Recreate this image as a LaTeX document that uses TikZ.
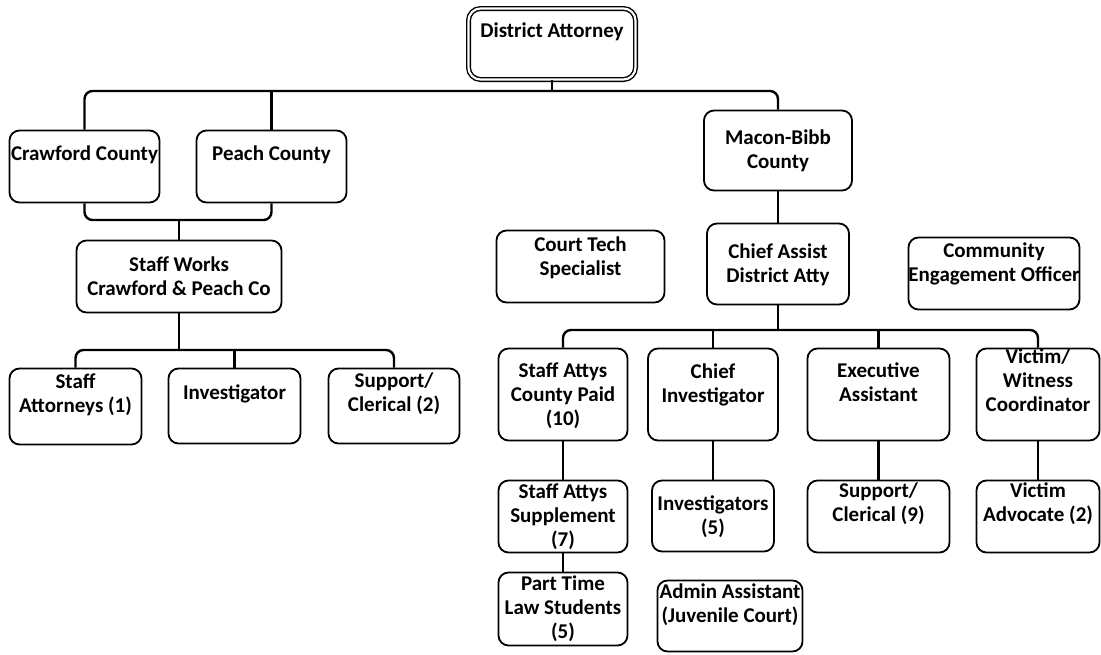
\documentclass[tikz,border=0pt]{standalone}
\usepackage{fontspec}
\setmainfont{Carlito}
\usepackage{tikz}

\begin{document}
\begin{tikzpicture}[x=1pt,y=-1pt]
\tikzstyle{post}=[draw,line width=1.8pt,rounded corners=10pt,fill=white];
\tikzstyle{head}=[draw,line width=1.4pt,double,double distance=2.2pt,rounded corners=12pt,fill=white];
\tikzstyle{txt}=[align=center,inner sep=0pt,font=\fontsize{21}{24}\selectfont\bfseries];
\tikzstyle{link}=[line width=2.4pt];
\tikzstyle{tree}=[line width=2.4pt,rounded corners=8pt];

\useasboundingbox (0,0) rectangle (1101,654);

\node [head,minimum width=167pt,minimum height=71pt] (da) at (552,44) {};
\node [txt] (da-t) at (552,32) {District Attorney};
\coordinate (top) at (552,91);

%% counties

\node [post,minimum width=150pt,minimum height=72pt] (crawford) at (84.5,166.5) {};
\node [txt] (crawford-t) at (84.5,155) {Crawford County};
\node [post,minimum width=150pt,minimum height=72pt] (peach) at (271.5,166.5) {};
\node [txt] (peach-t) at (271.5,155) {Peach County};
\node [post,minimum width=148pt,minimum height=80pt] (macon) at (778,150.5) {};
\node [txt] (macon-t) at (778,150.5) {Macon-Bibb\\County};

\draw [link] (da.south) -- (top);
\draw [tree] (crawford.north) |- (top) -| (macon.north);
\draw [link] (peach.north) -- (peach.north |- top);

%% crawford & peach

\coordinate (pair) at (179,220);
\draw [tree] (crawford.south) |- (pair) -| (peach.south);
\node [post,minimum width=205pt,minimum height=72pt] (works) at (179,276.5) {};
\node [txt] (works-t) at (179,276.5) {Staff Works\\Crawford \& Peach Co};
\draw [link] (pair) -- (works.north);

\coordinate (cpbar) at (179,350);
\node [post,minimum width=132pt,minimum height=76pt] (attys) at (75.5,406.5) {};
\node [txt] (attys-t) at (75.5,394.5) {Staff\\Attorneys (1)};
\node [post,minimum width=132pt,minimum height=75pt] (inv) at (234.5,406) {};
\node [txt] (inv-t) at (234.5,394) {Investigator};
\node [post,minimum width=131pt,minimum height=75pt] (clerk) at (394,406) {};
\node [txt] (clerk-t) at (394,394) {Support/\\Clerical (2)};
\draw [link] (works.south) -- (cpbar);
\draw [tree] (attys.north) |- (cpbar) -| (clerk.north);
\draw [link] (inv.north) -- (inv.north |- cpbar);

%% macon-bibb

\node [post,minimum width=142pt,minimum height=81pt] (chief) at (778,264) {};
\node [txt] (chief-t) at (778,264.5) {Chief Assist\\District Atty};
\draw [link] (macon) -- (chief);
\node [post,minimum width=168pt,minimum height=72pt] (tech) at (580.5,266.5) {};
\node [txt] (tech-t) at (580.5,257.5) {Court Tech\\Specialist};
\node [post,minimum width=171pt,minimum height=72pt] (outreach) at (994,273.5) {};
\node [txt] (outreach-t) at (994,264) {Community\\Engagement Officer};

\coordinate (mbbar) at (778,330);
\node [post,minimum width=129pt,minimum height=92pt] (paid) at (563,394.5) {};
\node [txt] (paid-t) at (563,396) {Staff Attys\\County Paid\\(10)};
\node [post,minimum width=130pt,minimum height=92pt] (cinv) at (713,394.5) {};
\node [txt] (cinv-t) at (713,384.5) {Chief\\Investigator};
\node [post,minimum width=142pt,minimum height=92pt] (exec) at (878.5,394.5) {};
\node [txt] (exec-t) at (878.5,382.5) {Executive\\Assistant};
\node [post,minimum width=123pt,minimum height=92pt] (vw) at (1038,394.5) {};
\node [txt] (vw-t) at (1038,380) {Victim/\\Witness\\Coordinator};
\draw [link] (chief.south) -- (mbbar);
\draw [tree] (paid.north) |- (mbbar) -| (vw.north);
\draw [link] (cinv.north) -- (cinv.north |- mbbar);
\draw [link] (exec.north) -- (exec.north |- mbbar);

%%

\node [post,minimum width=129pt,minimum height=72pt] (supp) at (563,516.5) {};
\node [txt] (supp-t) at (563,516.5) {Staff Attys\\Supplement\\(7)};
\node [post,minimum width=129pt,minimum height=73pt] (law) at (563,609) {};
\node [txt] (law-t) at (563,609) {Part Time\\Law Students\\(5)};
\draw [link] (paid) -- (supp);
\draw [link] (supp) -- (law);

\node [post,minimum width=122pt,minimum height=71pt] (invs) at (713,516) {};
\node [txt] (invs-t) at (713,516.5) {Investigators\\(5)};
\draw [link] (cinv) -- (invs);
\node [post,minimum width=145pt,minimum height=71pt] (admin) at (730,616) {};
\node [txt] (admin-t) at (730,605) {Admin Assistant\\(Juvenile Court)};

\node [post,minimum width=142pt,minimum height=72pt] (clerks) at (878.5,516.5) {};
\node [txt] (clerks-t) at (878.5,504) {Support/\\Clerical (9)};
\draw [link] (exec) -- (clerks);

\node [post,minimum width=123pt,minimum height=72pt] (adv) at (1038,516.5) {};
\node [txt] (adv-t) at (1038,504) {Victim\\Advocate (2)};
\draw [link] (vw) -- (adv);
\end{tikzpicture}
\end{document}
